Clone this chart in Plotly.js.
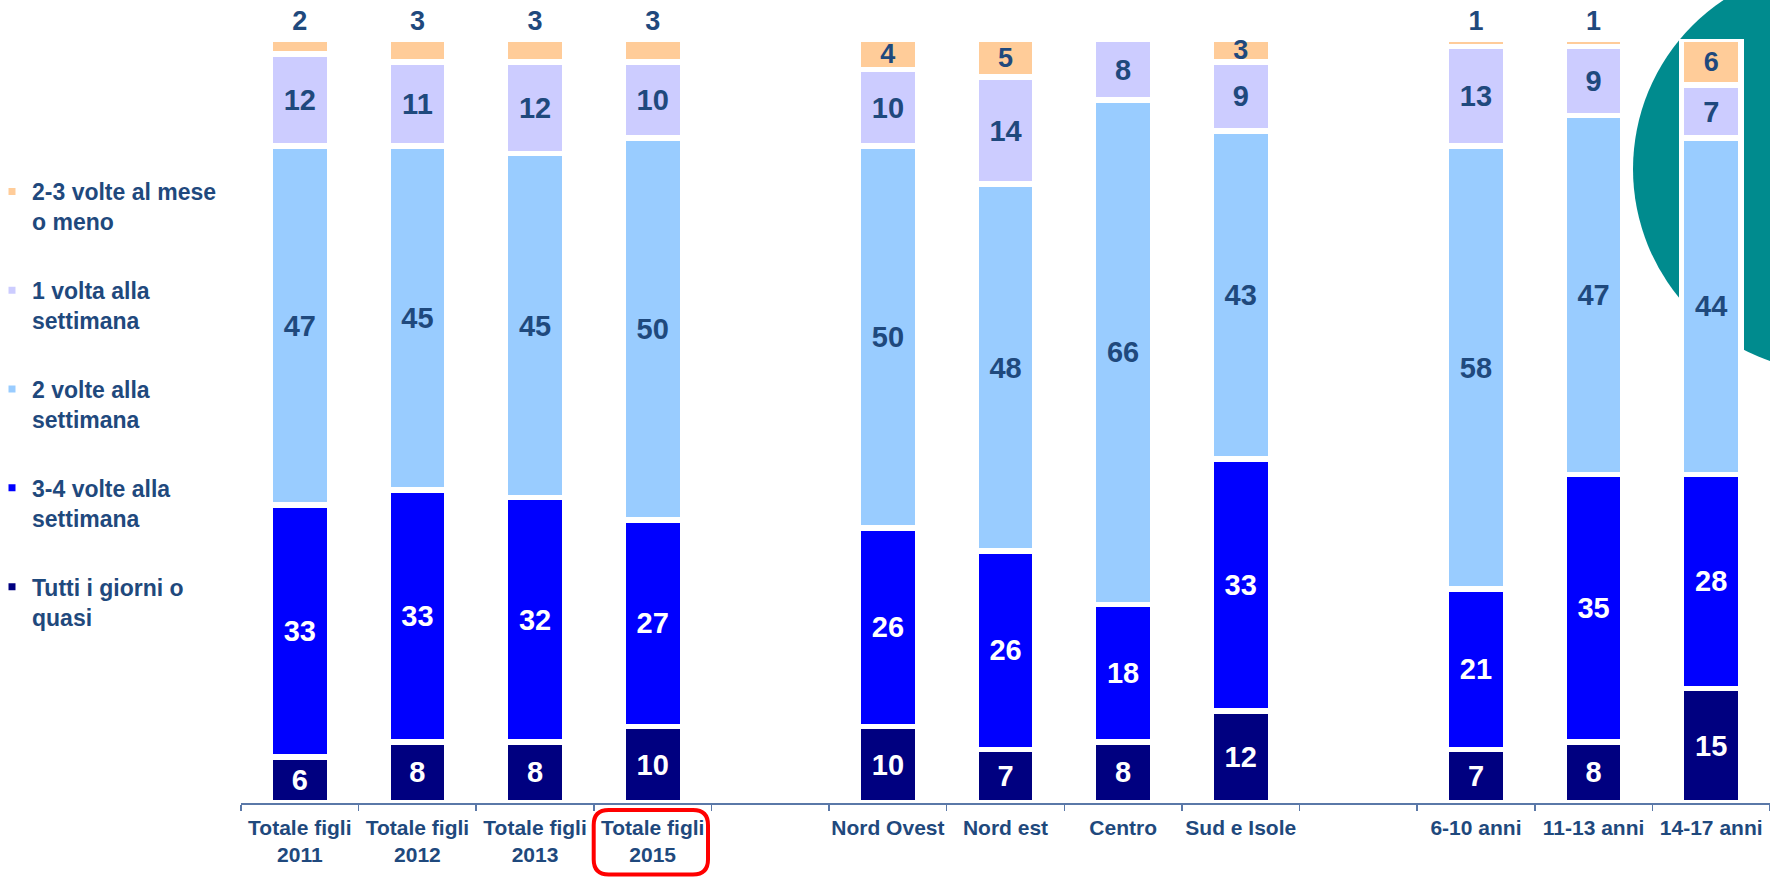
<!DOCTYPE html>
<html>
<head>
<meta charset="utf-8">
<script src="https://cdn.plot.ly/plotly-3.0.1.min.js"></script>
<style>
html,body{margin:0;padding:0;background:#fff;}
#chart{width:1770px;height:879px;}
</style>
</head>
<body>
<div id="chart"></div>
<script>
// ---- data ----
var categories = ["Totale figli<br>2011","Totale figli<br>2012","Totale figli<br>2013","Totale figli<br>2015"," ",
  "Nord Ovest","Nord est","Centro","Sud e Isole","  ","6-10 anni","11-13 anni","14-17 anni"];
var seriesNames = ["Tutti i giorni o<br>quasi","3-4 volte alla<br>settimana","2 volte alla<br>settimana","1 volta alla<br>settimana","2-3 volte al mese<br>o meno"];
var tuttiGiorni   = [6, 8, 8, 10, null, 10, 7, 8, 12, null, 7, 8, 15];
var treQuattro    = [33, 33, 32, 27, null, 26, 26, 18, 33, null, 21, 35, 28];
var dueVolte      = [47, 45, 45, 50, null, 50, 48, 66, 43, null, 58, 47, 44];
var unaVolta      = [12, 11, 12, 10, null, 10, 14, 8, 9, null, 13, 9, 7];
var dueTreMese    = [2, 3, 3, 3, null, 4, 5, null, 3, null, 1, 1, 6];
var meseLabelPos  = ["outside","outside","outside","outside","outside","inside","inside","inside","inside","outside","outside","outside","inside"];

// ---- styles ----
var colors = ["#000080","#0000FF","#99CCFF","#CCCCFF","#FFCC99"];
var dark = "#1F497D";
var FONT = "Liberation Sans, Arial, sans-serif";
var LW = 5.7;

function barTrace(name, vals, color, txtColor, idx) {
  return {
    type: "bar", name: name, x: categories, y: vals,
    marker: {color: color, line: {color: "#FFFFFF", width: LW}},
    texttemplate: "%{y}", textposition: "inside", textangle: 0,
    insidetextanchor: "middle", constraintext: "none",
    textfont: {family: FONT, size: 29, color: txtColor, weight: "bold"},
    insidetextfont: {family: FONT, size: 29, color: txtColor, weight: "bold"},
    legendgroup: "g" + idx, legendrank: 100 - idx,
    hoverinfo: "skip", cliponaxis: false
  };
}

var traces = [
  barTrace(seriesNames[0], tuttiGiorni, colors[0], "#FFFFFF", 0),
  barTrace(seriesNames[1], treQuattro, colors[1], "#FFFFFF", 1),
  barTrace(seriesNames[2], dueVolte, colors[2], dark, 2),
  barTrace(seriesNames[3], unaVolta, colors[3], dark, 3),
  barTrace(seriesNames[4], dueTreMese, colors[4], dark, 4)
];
traces[4].textposition = meseLabelPos;
traces[4].textfont.size = 27;
traces[4].insidetextfont.size = 27;
traces[4].outsidetextfont = {family: FONT, size: 27, color: dark, weight: "bold"};

var L = 241, PW = 1529, T = 39, PH = 764;
function px2x(p){ return (p - L) / PW; }
function py2y(p){ return (T + PH - p) / PH; }

// rounded red box around "Totale figli 2015"
var bx0 = px2x(593.7), bx1 = px2x(708), by0 = py2y(810), by1 = py2y(874.5);
var rx = 15 / PW, ry = 15 / PH;
var boxPath = "M" + (bx0 + rx) + "," + by0 +
  " L" + (bx1 - rx) + "," + by0 + " Q" + bx1 + "," + by0 + " " + bx1 + "," + (by0 - ry) +
  " L" + bx1 + "," + (by1 + ry) + " Q" + bx1 + "," + by1 + " " + (bx1 - rx) + "," + by1 +
  " L" + (bx0 + rx) + "," + by1 + " Q" + bx0 + "," + by1 + " " + bx0 + "," + (by1 + ry) +
  " L" + bx0 + "," + (by0 - ry) + " Q" + bx0 + "," + by0 + " " + (bx0 + rx) + "," + by0 + " Z";

var layout = {
  width: 1770, height: 879,
  margin: {l: L, r: 1770 - L - PW, t: T, b: 879 - T - PH, autoexpand: false},
  paper_bgcolor: "#FFFFFF", plot_bgcolor: "rgba(0,0,0,0)",
  barmode: "stack", bargap: 0.495,
  font: {family: FONT, color: dark},
  showlegend: true,
  legend: {
    x: px2x(-8), xanchor: "left", y: py2y(170), yanchor: "top",
    traceorder: "grouped", tracegroupgap: 36, valign: "top",
    font: {family: FONT, size: 23, color: dark, weight: "bold"},
    bgcolor: "rgba(0,0,0,0)"
  },
  xaxis: {
    type: "category", categoryorder: "array", categoryarray: categories,
    range: [-0.5, 12.5], fixedrange: true, tickangle: 0, ticklabelstandoff: 5,
    showline: true, linecolor: "#5A78A8", linewidth: 1.5,
    ticks: "outside", tickson: "boundaries", ticklen: 6, tickcolor: "#5A78A8", tickwidth: 1.5,
    tickfont: {family: FONT, size: 21, color: dark, weight: "bold"},
    showgrid: false, zeroline: false
  },
  yaxis: {range: [0, 100], visible: false, showgrid: false, zeroline: false, fixedrange: true},
  shapes: [
    {type: "circle", xref: "paper", yref: "paper", layer: "below",
     x0: px2x(1633), x1: px2x(2039), y0: py2y(372), y1: py2y(-34),
     fillcolor: "#008B8E", line: {width: 0}},
    {type: "path", xref: "paper", yref: "paper", layer: "above", path: boxPath,
     line: {color: "#FF0000", width: 4}, fillcolor: "rgba(0,0,0,0)"}
  ]
};

Plotly.newPlot("chart", traces, layout, {displayModeBar: false, staticPlot: true});
</script>
</body>
</html>
